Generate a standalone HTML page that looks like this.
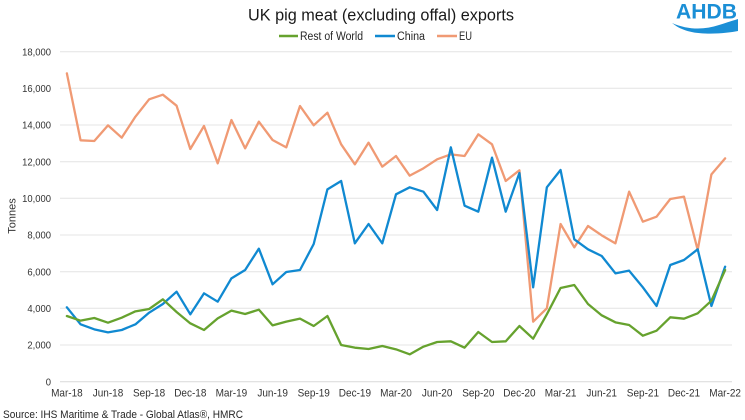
<!DOCTYPE html>
<html><head><meta charset="utf-8"><style>
html,body{margin:0;padding:0;background:#fff;}
svg{display:block;font-family:"Liberation Sans",Arial,sans-serif;}
</style></head><body>
<svg width="745" height="420" viewBox="0 0 745 420" xmlns="http://www.w3.org/2000/svg">
<rect width="745" height="420" fill="#fff"/>
<!-- title -->
<text x="381" y="20.5" font-size="17" fill="#1a1a1a" text-anchor="middle" textLength="266" lengthAdjust="spacingAndGlyphs">UK pig meat (excluding offal) exports</text>
<!-- legend -->
<line x1="279" y1="36" x2="298" y2="36" stroke="#66A22E" stroke-width="2.5"/>
<text x="300" y="40" font-size="11.5" fill="#262626" textLength="63" lengthAdjust="spacingAndGlyphs">Rest of World</text>
<line x1="375" y1="36" x2="395" y2="36" stroke="#1089D1" stroke-width="2.5"/>
<text x="397" y="40" font-size="11.5" fill="#262626" textLength="28" lengthAdjust="spacingAndGlyphs">China</text>
<line x1="437" y1="36" x2="457" y2="36" stroke="#F09A74" stroke-width="2.5"/>
<text x="459" y="40" font-size="11.5" fill="#262626" textLength="13" lengthAdjust="spacingAndGlyphs">EU</text>
<!-- logo -->
<text x="676" y="18.5" font-size="21" font-weight="bold" fill="#1B8FD6" textLength="61" lengthAdjust="spacingAndGlyphs">AHDB</text>
<path d="M672,23 C688,30 704,30 719,25 C727,22.5 733,20.5 738,19 L738,31 C730,32.5 719,34 705,33.5 C690,33 680,29.5 672,23 Z" fill="#1B8FD6"/>
<!-- gridlines -->
<g stroke="#e4e4e4" stroke-width="1">
<line x1="60" y1="51.7" x2="732" y2="51.7"/>
<line x1="60" y1="88.3" x2="732" y2="88.3"/>
<line x1="60" y1="125" x2="732" y2="125"/>
<line x1="60" y1="161.7" x2="732" y2="161.7"/>
<line x1="60" y1="198.3" x2="732" y2="198.3"/>
<line x1="60" y1="235" x2="732" y2="235"/>
<line x1="60" y1="271.7" x2="732" y2="271.7"/>
<line x1="60" y1="308.3" x2="732" y2="308.3"/>
<line x1="60" y1="345" x2="732" y2="345"/>
</g>
<line x1="60" y1="381.7" x2="732" y2="381.7" stroke="#d9d9d9" stroke-width="1"/>
<!-- y labels -->
<g font-size="10.5" fill="#333" text-anchor="end">
<g transform="translate(51,55.4) scale(0.9,1)"><text>18,000</text></g>
<g transform="translate(51,92) scale(0.9,1)"><text>16,000</text></g>
<g transform="translate(51,128.7) scale(0.9,1)"><text>14,000</text></g>
<g transform="translate(51,165.4) scale(0.9,1)"><text>12,000</text></g>
<g transform="translate(51,202) scale(0.9,1)"><text>10,000</text></g>
<g transform="translate(51,238.7) scale(0.9,1)"><text>8,000</text></g>
<g transform="translate(51,275.4) scale(0.9,1)"><text>6,000</text></g>
<g transform="translate(51,312) scale(0.9,1)"><text>4,000</text></g>
<g transform="translate(51,348.7) scale(0.9,1)"><text>2,000</text></g>
<g transform="translate(51,385.4) scale(0.9,1)"><text>0</text></g>
</g>
<!-- y axis title -->
<text transform="translate(15.5,216) rotate(-90)" font-size="11" fill="#333" text-anchor="middle">Tonnes</text>
<!-- x labels -->
<g font-size="11" fill="#333" text-anchor="middle">
<g transform="translate(66.9,396.5) scale(0.91,1)"><text>Mar-18</text></g>
<g transform="translate(108,396.5) scale(0.91,1)"><text>Jun-18</text></g>
<g transform="translate(149.1,396.5) scale(0.91,1)"><text>Sep-18</text></g>
<g transform="translate(190.3,396.5) scale(0.91,1)"><text>Dec-18</text></g>
<g transform="translate(231.4,396.5) scale(0.91,1)"><text>Mar-19</text></g>
<g transform="translate(272.6,396.5) scale(0.91,1)"><text>Jun-19</text></g>
<g transform="translate(313.7,396.5) scale(0.91,1)"><text>Sep-19</text></g>
<g transform="translate(354.9,396.5) scale(0.91,1)"><text>Dec-19</text></g>
<g transform="translate(396,396.5) scale(0.91,1)"><text>Mar-20</text></g>
<g transform="translate(437.1,396.5) scale(0.91,1)"><text>Jun-20</text></g>
<g transform="translate(478.3,396.5) scale(0.91,1)"><text>Sep-20</text></g>
<g transform="translate(519.4,396.5) scale(0.91,1)"><text>Dec-20</text></g>
<g transform="translate(560.6,396.5) scale(0.91,1)"><text>Mar-21</text></g>
<g transform="translate(601.7,396.5) scale(0.91,1)"><text>Jun-21</text></g>
<g transform="translate(642.9,396.5) scale(0.91,1)"><text>Sep-21</text></g>
<g transform="translate(684,396.5) scale(0.91,1)"><text>Dec-21</text></g>
<g transform="translate(725.1,396.5) scale(0.91,1)"><text>Mar-22</text></g>
</g>
<!-- series -->
<g fill="none" stroke-width="2.3" stroke-linejoin="round" stroke-linecap="round">
<polyline stroke="#F09A74" points="66.86,73.33 80.57,140.33 94.29,141 108,125.33 121.72,137.67 135.43,116.67 149.14,99.33 162.86,94.67 176.57,105.67 190.29,149 204,126 217.71,163.33 231.43,120 245.14,148.33 258.86,121.67 272.57,140 286.28,147.33 300,106 313.71,125.33 327.43,112.67 341.14,144.33 354.85,164.33 368.57,142.67 382.28,166.67 396,156 409.71,175.67 423.42,168.33 437.14,159.33 450.85,154.33 464.57,156 478.28,134.33 492,144.33 505.71,181 519.42,170.33 533.14,321.67 546.85,308.33 560.56,224 574.28,247.33 587.99,226 601.71,235.33 615.42,243.33 629.13,191.67 642.85,221.67 656.56,216.67 670.28,199 683.99,196.67 697.7,250 711.42,174.33 725.13,158.33"/>
<polyline stroke="#1089D1" points="66.86,307.33 80.57,324.33 94.29,329.33 108,332.33 121.72,330 135.43,324.33 149.14,312.67 162.86,304 176.57,291.67 190.29,314.33 204,293.33 217.71,301.67 231.43,278.33 245.14,270 258.86,248.67 272.57,284.33 286.28,272 300,270 313.71,244 327.43,189.33 341.14,181 354.85,243.33 368.57,224 382.28,243.33 396,194.33 409.71,187.33 423.42,191.67 437.14,210 450.85,147.33 464.57,205.67 478.28,211.67 492,157.67 505.71,211.67 519.42,173 533.14,287.33 546.85,187.33 560.56,170 574.28,239.33 587.99,249.33 601.71,256 615.42,273.33 629.13,270.67 642.85,287.33 656.56,306 670.28,265 683.99,260 697.7,249.33 711.42,306 725.13,266.67"/>
<polyline stroke="#66A22E" points="66.86,316 80.57,320.67 94.29,318 108,322.67 121.72,317.67 135.43,311.33 149.14,309 162.86,299.33 176.57,312 190.29,323.33 204,330 217.71,318.33 231.43,310.67 245.14,314 258.86,309.67 272.57,325.33 286.28,321.67 300,318.67 313.71,326 327.43,316 341.14,345 354.85,347.67 368.57,349 382.28,346 396,349.33 409.71,354.33 423.42,346.67 437.14,342 450.85,341.33 464.57,347.67 478.28,332 492,342 505.71,341.33 519.42,326 533.14,338.67 546.85,314.33 560.56,288 574.28,285 587.99,304 601.71,315.33 615.42,322.33 629.13,325 642.85,335.67 656.56,330.67 670.28,317.33 683.99,318.67 697.7,313.33 711.42,300.67 725.13,270"/>
</g>
<!-- source -->
<text x="3" y="418" font-size="11" fill="#262626" textLength="240" lengthAdjust="spacingAndGlyphs">Source: IHS Maritime &amp; Trade - Global Atlas®, HMRC</text>
</svg>
</body></html>
